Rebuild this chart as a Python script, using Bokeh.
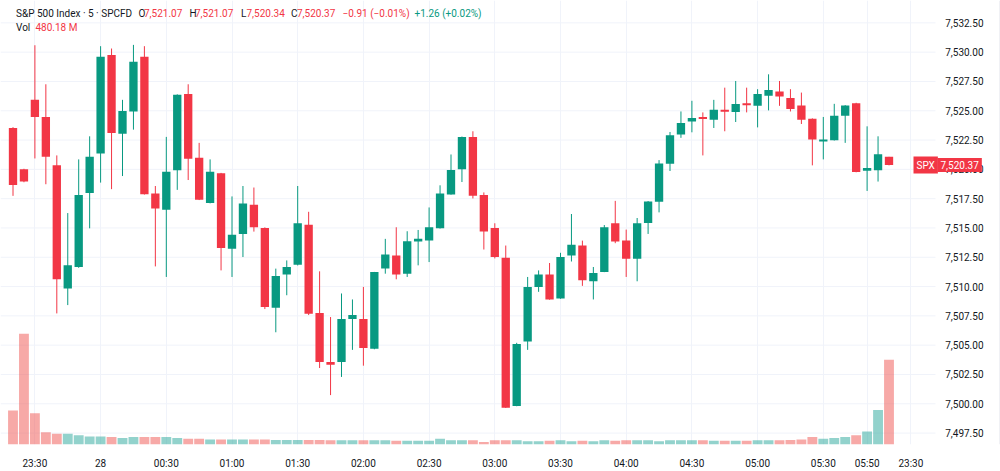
from bokeh.plotting import figure
from bokeh.models import Range1d, FixedTicker, Label, Span
from bokeh.core.properties import value
from bokeh.embed import file_html
from bokeh.resources import INLINE

# ---------------- data ----------------
opens = [7523.53, 7520.00, 7525.93, 7524.47, 7520.34, 7509.83, 7511.67, 7517.99, 7521.36, 7529.75,
         7523.03, 7524.94, 7529.60, 7517.94, 7516.55, 7519.92, 7526.44, 7520.99, 7517.12, 7519.66,
         7513.22, 7514.49, 7516.97, 7515.00, 7508.19, 7511.02, 7511.86, 7515.28, 7507.74, 7503.56,
         7503.56, 7507.23, 7507.23, 7504.69, 7511.55, 7512.65, 7511.10, 7513.84, 7513.92, 7514.97,
         7517.86, 7520.00, 7522.77, 7517.82, 7515.00, 7512.46, 7499.81, 7505.31, 7509.97, 7511.04,
         7508.98, 7512.65, 7513.50, 7510.45, 7511.25, 7515.40, 7513.92, 7512.37, 7515.42, 7517.23,
         7520.48, 7522.97, 7524.09, 7524.47, 7524.24, 7525.08, 7524.89, 7525.65, 7525.42, 7526.27,
         7526.64, 7526.08, 7525.45, 7524.32, 7522.37, 7522.48, 7524.58, 7525.65, 7519.89, 7519.92,
         7521.07]
highs = [7523.60, 7520.05, 7530.59, 7527.26, 7521.19, 7516.27, 7520.85, 7522.82, 7530.51, 7530.31,
         7525.93, 7530.62, 7530.51, 7518.58, 7522.77, 7526.40, 7527.26, 7522.26, 7520.85, 7519.70,
         7517.69, 7518.58, 7518.45, 7515.05, 7511.53, 7512.23, 7518.58, 7516.38, 7511.30, 7507.40,
         7509.41, 7508.90, 7509.97, 7511.25, 7514.07, 7515.06, 7514.72, 7514.83, 7516.75, 7518.64,
         7521.27, 7522.80, 7523.25, 7518.03, 7515.40, 7513.50, 7505.20, 7510.82, 7511.38, 7512.01,
         7512.88, 7516.19, 7513.92, 7511.67, 7515.25, 7517.31, 7514.86, 7515.85, 7517.30, 7520.79,
         7523.19, 7524.94, 7525.85, 7524.86, 7525.93, 7526.97, 7527.54, 7526.97, 7526.84, 7528.11,
         7527.54, 7526.84, 7526.55, 7524.35, 7524.47, 7525.59, 7525.48, 7525.68, 7523.67, 7522.82,
         7521.07]
lows = [7517.74, 7518.90, 7520.93, 7518.73, 7507.71, 7508.42, 7511.60, 7514.97, 7518.87, 7518.31,
        7519.43, 7523.39, 7517.85, 7511.72, 7510.82, 7518.25, 7519.09, 7517.38, 7517.10, 7511.38,
        7510.82, 7512.52, 7514.69, 7508.08, 7506.10, 7509.26, 7511.80, 7507.57, 7503.05, 7500.74,
        7502.29, 7504.60, 7503.25, 7504.65, 7511.10, 7510.62, 7510.82, 7511.81, 7512.09, 7514.95,
        7517.84, 7518.92, 7517.52, 7513.16, 7512.40, 7499.64, 7499.79, 7504.60, 7509.55, 7508.88,
        7508.96, 7512.14, 7510.06, 7508.90, 7511.23, 7513.70, 7510.82, 7510.45, 7514.49, 7516.33,
        7519.86, 7522.69, 7523.16, 7521.19, 7523.53, 7523.25, 7524.04, 7524.86, 7523.58, 7525.03,
        7525.42, 7524.94, 7523.87, 7520.34, 7520.85, 7522.46, 7522.26, 7519.75, 7518.16, 7518.96,
        7520.34]
closes = [7518.67, 7518.96, 7524.47, 7521.08, 7510.62, 7511.81, 7517.82, 7521.08, 7529.60, 7523.11,
          7524.97, 7529.18, 7517.88, 7516.67, 7519.80, 7526.36, 7520.91, 7517.40, 7519.80, 7513.28,
          7514.43, 7517.09, 7515.06, 7508.25, 7510.91, 7511.67, 7515.40, 7507.69, 7503.56, 7503.33,
          7507.23, 7507.57, 7504.75, 7511.25, 7512.74, 7511.02, 7513.87, 7514.07, 7515.06, 7517.94,
          7519.94, 7522.77, 7517.74, 7514.69, 7512.52, 7499.66, 7505.11, 7509.97, 7511.04, 7508.90,
          7512.52, 7513.56, 7510.53, 7511.16, 7515.06, 7513.84, 7512.37, 7515.40, 7517.26, 7520.51,
          7522.91, 7523.96, 7524.38, 7524.30, 7525.08, 7524.92, 7525.57, 7525.48, 7526.44, 7526.78,
          7526.21, 7525.14, 7524.24, 7522.54, 7522.54, 7524.58, 7525.45, 7519.77, 7520.11, 7521.28,
          7520.37]
volumes_m = [193, 629, 178, 70, 61, 61, 52, 46, 46, 42,
             37, 42, 42, 42, 42, 37, 33, 33, 29, 29,
             29, 29, 29, 29, 25, 25, 25, 25, 25, 24,
             24, 24, 24, 24, 24, 21, 21, 21, 21, 33,
             24, 24, 24, 14, 24, 24, 24, 19, 19, 21,
             24, 19, 21, 19, 24, 21, 24, 24, 24, 19,
             24, 24, 24, 24, 21, 21, 21, 21, 24, 24,
             24, 26, 29, 42, 33, 37, 42, 52, 74, 196,
             480.18]

time_tick_index = [2, 8, 14, 20, 26, 32, 38, 44, 50, 56, 62, 68, 74, 78, 82]
time_tick_labels = ["23:30", "28", "00:30", "01:00", "01:30", "02:00", "02:30", "03:00",
                    "03:30", "04:00", "04:30", "05:00", "05:30", "05:50", "23:30"]
price_ticks = [7497.5, 7500.0, 7502.5, 7505.0, 7507.5, 7510.0, 7512.5, 7515.0,
               7517.5, 7520.0, 7522.5, 7525.0, 7527.5, 7530.0, 7532.5]
price_tick_labels = ["7,497.50", "7,500.00", "7,502.50", "7,505.00", "7,507.50", "7,510.00",
                     "7,512.50", "7,515.00", "7,517.50", "7,520.00", "7,522.50", "7,525.00",
                     "7,527.50", "7,530.00", "7,532.50"]
last_price = 7520.37
last_price_label = "7,520.37"

# ---------------- layout constants ----------------
W, H = 1000, 471
PANE_W, FRAME_H = 935, 447
BAR_PX = 10.95
X0_PX = 12.5
PX_PER_PT = 11.8
Y7500_PX = 406.0
VOL_PX_PER_M = 85.2 / 480.18

x_start = -X0_PX / BAR_PX
x_end = x_start + W / BAR_PX
y_end = 7500 + Y7500_PX / PX_PER_PT
y_start = y_end - FRAME_H / PX_PER_PT


def px_x(xp):
    return x_start + xp / BAR_PX


def px_y(yp):
    return y_end - yp / PX_PER_PT


UP = "#089981"
DOWN = "#F23645"
TXT = "#131722"
GRID = "#f0f3fa"
FONT = "Roboto"
FS = "10px"

n = len(closes)
idx = list(range(n))
up = [c >= o for o, c in zip(opens, closes)]
ccol = [UP if u else DOWN for u in up]
vcol = ["#26a69a" if u else "#ef5350" for u in up]
body_top = [max(o, c) for o, c in zip(opens, closes)]
body_bot = [min(o, c) for o, c in zip(opens, closes)]

p = figure(width=W, height=H, output_backend="svg", toolbar_location=None,
           x_range=Range1d(x_start, x_end), y_range=Range1d(y_start, y_end),
           y_axis_location=None,
           min_border_left=0, min_border_top=0, min_border_right=0,
           min_border_bottom=H - FRAME_H)
p.outline_line_color = None
p.background_fill_color = "white"
p.border_fill_color = "white"

p.extra_y_ranges = {"vol": Range1d(0, FRAME_H / VOL_PX_PER_M)}

# grids
p.xgrid.ticker = FixedTicker(ticks=time_tick_index)
p.xgrid.grid_line_color = GRID
p.ygrid.grid_line_color = None
pane_right = px_x(PANE_W)
p.segment(x0=[x_start] * len(price_ticks), y0=price_ticks,
          x1=[pane_right] * len(price_ticks), y1=price_ticks,
          line_color=GRID, line_width=1)

# x axis
xa = p.xaxis[0]
xa.ticker = FixedTicker(ticks=time_tick_index)
xa.major_label_overrides = {i: lab for i, lab in zip(time_tick_index, time_tick_labels)}
xa.axis_line_color = None
xa.major_tick_line_color = None
xa.minor_tick_line_color = None
xa.major_label_standoff = 7
xa.major_label_text_font = FONT
xa.major_label_text_font_size = FS
xa.major_label_text_color = TXT

# price scale labels (right side)
p.text(x=[px_x(983)] * len(price_ticks), y=price_ticks, text=price_tick_labels,
       text_align="right", text_baseline="middle", text_color=TXT,
       text_font=value(FONT), text_font_size=FS)

# right edge line
p.add_layout(Span(location=px_x(999.5), dimension="height", line_color="#e0e3eb", line_width=1))

# volume
p.vbar(x=idx, width=0.9, top=volumes_m, bottom=0, y_range_name="vol",
       fill_color=vcol, line_color=None, fill_alpha=0.5)

# candles
p.segment(x0=idx, y0=lows, x1=idx, y1=highs, line_color=ccol, line_width=1)
p.vbar(x=idx, width=0.76, top=body_top, bottom=body_bot, fill_color=ccol, line_color=None)


# header
def add_text(xp, yp, text, color):
    p.add_layout(Label(x=px_x(xp), y=px_y(yp), text=text, text_color=color,
                       text_font=FONT, text_font_size=FS,
                       text_baseline="middle", text_align="left"))


add_text(15.5, 13, "S&P 500 Index · 5 · SPCFD", TXT)
add_text(138, 13, "O", TXT)
add_text(143.5, 13, "7,521.07", DOWN)
add_text(189, 13, "H", TXT)
add_text(194.5, 13, "7,521.07", DOWN)
add_text(240.5, 13, "L", TXT)
add_text(246, 13, "7,520.34", DOWN)
add_text(290.5, 13, "C", TXT)
add_text(296.5, 13, "7,520.37", DOWN)
add_text(342, 13, "\u22120.91 (\u22120.01%)", DOWN)
add_text(414, 13, "+1.26 (+0.02%)", UP)
add_text(15.5, 27, "Vol", TXT)
add_text(35, 27, "480.18 M", DOWN)

# last price tag
p.add_layout(Label(x=px_x(913), y=last_price, text="SPX", text_color="white",
                   text_font=FONT, text_font_size=FS, text_baseline="middle",
                   background_fill_color=DOWN, padding=3))
p.add_layout(Label(x=px_x(937), y=last_price, text=last_price_label, text_color="white",
                   text_font=FONT, text_font_size=FS, text_baseline="middle",
                   background_fill_color=DOWN, padding=3))

open("out.html", "w").write(file_html(p, INLINE))
